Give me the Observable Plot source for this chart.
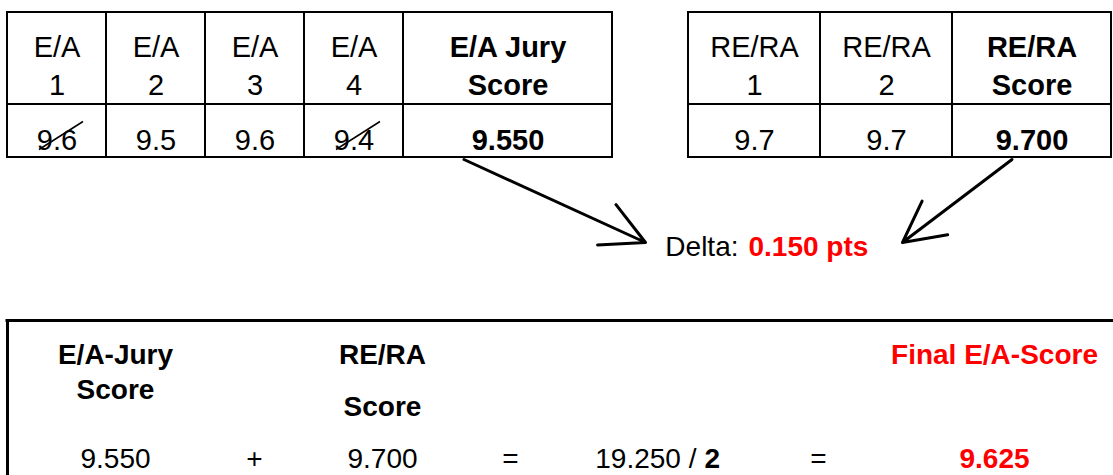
<!DOCTYPE html>
<html>
<head>
<meta charset="utf-8">
<script src="https://cdn.jsdelivr.net/npm/d3@7"></script>
<script src="https://cdn.jsdelivr.net/npm/@observablehq/plot@0.6"></script>
<style>
  html, body { margin: 0; padding: 0; background: #fff; }
  #chart svg { display: block; }
</style>
</head>
<body>
<div id="chart"></div>
<script>
// ---------- data ----------
const eaJudges = ["E/A\n1", "E/A\n2", "E/A\n3", "E/A\n4"];
const eaScores = [9.6, 9.5, 9.6, 9.4];
const eaDropped = [true, false, false, true];
const eaJuryLabel = "E/A Jury\nScore";
const eaJuryScore = 9.550;

const reraJudges = ["RE/RA\n1", "RE/RA\n2"];
const reraScores = [9.7, 9.7];
const reraLabel = "RE/RA\nScore";
const reraScore = 9.700;

const deltaLabel = "Delta:";
const deltaValue = 0.150;
const deltaUnit = "pts";

const formulaEaLabel = "E/A-Jury\nScore";
const formulaReraLabel = ["RE/RA", "Score"];
const finalLabel = "Final E/A-Score";
const sumValue = 19.250;
const divisor = 2;
const finalScore = 9.625;

// ---------- layout ----------
const W = 1113, H = 475;
const FS = 28, FST = 29, LH = 38 / 29;
const leftEdges = [7, 106, 205, 304, 403, 612];
const rightEdges = [688, 820, 952, 1111];
const rowTop = 12, rowMid = 104, rowBot = 157;
const headBase = 94, valBase = 149;
const red = "#ff0000";

const mid = (e, i) => (e[i] + e[i + 1]) / 2;

// cells
const cells = [];
for (const edges of [leftEdges, rightEdges]) {
  for (let i = 0; i < edges.length - 1; i++) {
    cells.push({x1: edges[i], x2: edges[i + 1], y1: rowTop, y2: rowMid});
    cells.push({x1: edges[i], x2: edges[i + 1], y1: rowMid, y2: rowBot});
  }
}

const headers = [
  ...eaJudges.map((t, i) => ({t, x: mid(leftEdges, i), bold: false})),
  {t: eaJuryLabel, x: mid(leftEdges, 4), bold: true},
  ...reraJudges.map((t, i) => ({t, x: mid(rightEdges, i), bold: false})),
  {t: reraLabel, x: mid(rightEdges, 2), bold: true}
];
const values = [
  ...eaScores.map((v, i) => ({t: v.toFixed(1), x: mid(leftEdges, i), bold: false, drop: eaDropped[i]})),
  {t: eaJuryScore.toFixed(3), x: mid(leftEdges, 4), bold: true, drop: false},
  ...reraScores.map((v, i) => ({t: v.toFixed(1), x: mid(rightEdges, i), bold: false, drop: false})),
  {t: reraScore.toFixed(3), x: mid(rightEdges, 2), bold: true, drop: false}
];
const strikes = values.filter(d => d.drop).map(d => ({x1: d.x - 18, y1: valBase, x2: d.x + 26, y2: valBase - 28}));

const juryCx = mid(leftEdges, 4), reraCx = mid(rightEdges, 2);
const arrows = [
  {x1: juryCx - 44, y1: rowBot + 2, x2: 645, y2: 242},
  {x1: reraCx - 20, y1: rowBot + 2, x2: 902, y2: 242}
];
const deltaX = 738, deltaBase = 255;

const boxTop = 320, boxLeft = 7;
const row1 = 363, row2a = 398, row2b = 415, row3 = 467;
const colE = 115, colPlus = 254, colR = 382, colEq1 = 510, colSum = 696, colEq2 = 818, colF = 994;

const txt = (data, opts) => Plot.text(data, {fontSize: FS, lineAnchor: "bottom", lineHeight: LH, fill: "black", ...opts});

const chart = Plot.plot({
  width: W, height: H,
  margin: 0,
  x: {domain: [0, W], range: [0, W], axis: null},
  y: {domain: [0, H], range: [0, H], axis: null},
  style: {fontFamily: "'Liberation Sans', Arial, sans-serif", background: "#fff", overflow: "hidden"},
  marks: [
    Plot.rect(cells, {x1: "x1", x2: "x2", y1: "y1", y2: "y2", fill: "none", stroke: "black", strokeWidth: 2}),
    txt(headers.filter(d => !d.bold), {x: "x", y: () => headBase, text: "t", fontSize: FST}),
    txt(headers.filter(d => d.bold), {x: "x", y: () => headBase, text: "t", fontWeight: "bold", fontSize: FST}),
    txt(values.filter(d => !d.bold), {x: "x", y: () => valBase, text: "t", fontSize: FST}),
    txt(values.filter(d => d.bold), {x: "x", y: () => valBase, text: "t", fontWeight: "bold", fontSize: FST}),
    Plot.link(strikes, {x1: "x1", y1: "y1", x2: "x2", y2: "y2", stroke: "black", strokeWidth: 1.5}),
    Plot.arrow(arrows, {x1: "x1", y1: "y1", x2: "x2", y2: "y2", stroke: "black", strokeWidth: 3, headLength: 24, headAngle: 55}),
    txt([deltaLabel], {x: () => deltaX, y: () => deltaBase, text: d => d, textAnchor: "end"}),
    txt([deltaValue], {x: () => deltaX + 10, y: () => deltaBase, text: d => `${d.toFixed(3)} ${deltaUnit}`, textAnchor: "start", fill: red, fontWeight: "bold"}),
    // formula box
    Plot.ruleY([boxTop], {x1: boxLeft - 1.5, x2: W, stroke: "black", strokeWidth: 3}),
    Plot.ruleX([boxLeft], {y1: boxTop, y2: H, stroke: "black", strokeWidth: 3}),
    txt([formulaEaLabel], {x: () => colE, y: () => row2a, text: d => d, fontWeight: "bold", lineHeight: 35 / 28}),
    txt([formulaReraLabel[0]], {x: () => colR, y: () => row1, text: d => d, fontWeight: "bold"}),
    txt([formulaReraLabel[1]], {x: () => colR, y: () => row2b, text: d => d, fontWeight: "bold"}),
    txt([finalLabel], {x: () => colF, y: () => row1, text: d => d, fontWeight: "bold", fill: red}),
    txt([eaJuryScore], {x: () => colE, y: () => row3, text: d => d.toFixed(3)}),
    txt(["+"], {x: () => colPlus, y: () => row3, text: d => d}),
    txt([reraScore], {x: () => colR, y: () => row3, text: d => d.toFixed(3)}),
    txt(["="], {x: () => colEq1, y: () => row3, text: d => d}),
    txt([sumValue], {x: () => colSum, y: () => row3, text: d => `${d.toFixed(3)} /`, textAnchor: "end"}),
    txt([divisor], {x: () => colSum + 8, y: () => row3, text: d => String(d), textAnchor: "start", fontWeight: "bold"}),
    txt(["="], {x: () => colEq2, y: () => row3, text: d => d}),
    txt([finalScore], {x: () => colF, y: () => row3, text: d => d.toFixed(3), fill: red, fontWeight: "bold"})
  ]
});
document.getElementById("chart").append(chart);
</script>
</body>
</html>
